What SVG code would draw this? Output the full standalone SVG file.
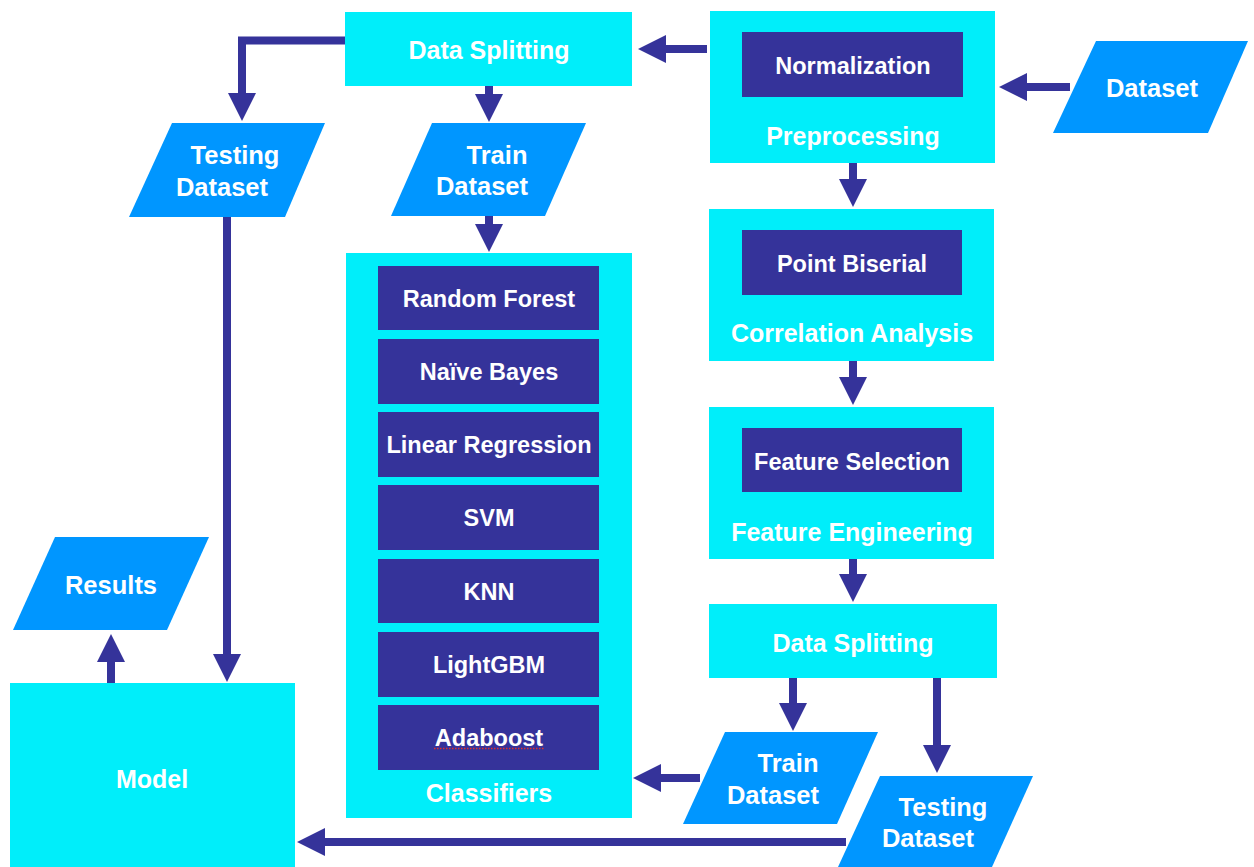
<svg xmlns="http://www.w3.org/2000/svg" width="1254" height="867" viewBox="0 0 1254 867">
<defs>
<style>
.c{fill:#00EEFA}
.d{fill:#35339A}
.p{fill:#0096FF}
.t{font-family:"Liberation Sans",Arial,Helvetica,sans-serif;font-weight:bold;fill:#FFFFFF;text-anchor:middle}
.L{font-size:25px}
.S{font-size:23.5px}
.P{font-size:25.5px}
.a{fill:none;stroke:#35339A;stroke-width:8;marker-end:url(#ah)}
</style>
<marker id="ah" markerUnits="userSpaceOnUse" markerWidth="28" markerHeight="28" viewBox="0 0 28 28" refX="1" refY="14" orient="auto">
<path d="M0,0 L28,14 L0,28 Z" fill="#35339A"/>
</marker>
</defs>
<rect width="1254" height="867" fill="#FFFFFF"/>

<g id="connectors">
<path class="a" d="M1070,87 H1026"/>
<path class="a" d="M707,49 H665"/>
<path class="a" d="M345,40.5 H242 V94"/>
<path class="a" d="M489,86 V95"/>
<path class="a" d="M489,216 V225"/>
<path class="a" d="M853,163 V180"/>
<path class="a" d="M853,361 V378"/>
<path class="a" d="M853,559 V575"/>
<path class="a" d="M793,678 V704"/>
<path class="a" d="M937,678 V746"/>
<path class="a" d="M700,778 H660"/>
<path class="a" d="M846,842 H324"/>
<path class="a" d="M227,217 V655"/>
<path class="a" d="M111,683 V661"/>
</g>

<g id="dataset-input">
<polygon class="p" points="1096,41 1248,41 1208,133 1053,133"/>
<text class="t P" x="1152" y="97">Dataset</text>
</g>

<g id="preprocessing">
<rect class="c" x="710" y="11" width="285" height="152"/>
<rect class="d" x="742" y="32" width="221" height="65"/>
<text class="t S" x="853" y="73.5">Normalization</text>
<text class="t L" x="853" y="145">Preprocessing</text>
</g>

<g id="correlation-analysis">
<rect class="c" x="709" y="209" width="285" height="152"/>
<rect class="d" x="742" y="230" width="220" height="65"/>
<text class="t S" x="852" y="271.5">Point Biserial</text>
<text class="t L" x="852" y="342">Correlation Analysis</text>
</g>

<g id="feature-engineering">
<rect class="c" x="709" y="407" width="285" height="152"/>
<rect class="d" x="742" y="428" width="220" height="64"/>
<text class="t S" x="852" y="469.5">Feature Selection</text>
<text class="t L" x="852" y="541">Feature Engineering</text>
</g>

<g id="data-splitting-bottom">
<rect class="c" x="709" y="604" width="288" height="74"/>
<text class="t L" x="853" y="652">Data Splitting</text>
</g>

<g id="train-dataset-bottom">
<polygon class="p" points="725,732 878,732 837,824 683,824"/>
<text class="t P" x="788" y="772">Train</text>
<text class="t P" x="773" y="804">Dataset</text>
</g>

<g id="testing-dataset-bottom">
<polygon class="p" points="880,776 1033,776 992,867 838,867"/>
<text class="t P" x="943" y="816">Testing</text>
<text class="t P" x="928" y="847">Dataset</text>
</g>

<g id="data-splitting-top">
<rect class="c" x="345" y="12" width="287" height="74"/>
<text class="t L" x="489" y="59">Data Splitting</text>
</g>

<g id="testing-dataset-top">
<polygon class="p" points="172,123 325,123 285,217 129,217"/>
<text class="t P" x="235" y="164">Testing</text>
<text class="t P" x="222" y="196">Dataset</text>
</g>

<g id="train-dataset-top">
<polygon class="p" points="432,123 586,123 545,216 391,216"/>
<text class="t P" x="497" y="164">Train</text>
<text class="t P" x="482" y="195">Dataset</text>
</g>

<g id="classifiers">
<rect class="c" x="346" y="253" width="286" height="565"/>
<rect class="d" x="378" y="266" width="221" height="64"/>
<text class="t S" x="489" y="306.5">Random Forest</text>
<rect class="d" x="378" y="339" width="221" height="65"/>
<text class="t S" x="489" y="379.5">Naïve Bayes</text>
<rect class="d" x="378" y="412" width="221" height="65"/>
<text class="t S" x="489" y="452.5">Linear Regression</text>
<rect class="d" x="378" y="485" width="221" height="65"/>
<text class="t S" x="489" y="525.5">SVM</text>
<rect class="d" x="378" y="559" width="221" height="64"/>
<text class="t S" x="489" y="599.5">KNN</text>
<rect class="d" x="378" y="632" width="221" height="65"/>
<text class="t S" x="489" y="672.5">LightGBM</text>
<rect class="d" x="378" y="705" width="221" height="65"/>
<text class="t S" x="489" y="745.5">Adaboost</text>
<path d="M434,748.5 H544" fill="none" stroke="#E0302C" stroke-width="1.3" stroke-dasharray="1.5 1.5"/>
<text class="t L" x="489" y="802">Classifiers</text>
</g>

<g id="model">
<rect class="c" x="10" y="683" width="285" height="184"/>
<text class="t L" x="152" y="788">Model</text>
</g>

<g id="results">
<polygon class="p" points="55,537 209,537 167,630 13,630"/>
<text class="t P" x="111" y="594">Results</text>
</g>
</svg>
